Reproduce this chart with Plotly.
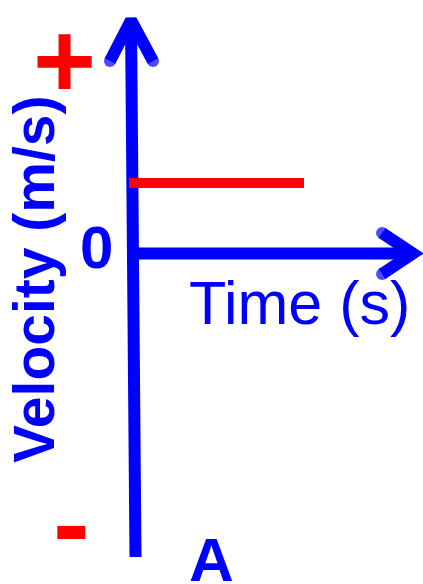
import plotly.graph_objects as go

# Data: constant positive velocity over time
TIME = [0, 5]          # s
VELOCITY = [2, 2]      # m/s

# Axis arrows (drawn in data space)
V_AXIS_X = [0.186, 0.057]
V_AXIS_Y = [-8.61, 6.62]
V_HEAD_X = [-0.543, 0.057, 0.686]
V_HEAD_Y = [5.46, 6.62, 5.46]
H_AXIS_X = [0.17, 8.11]
H_AXIS_Y = [0, 0]
H_HEAD_X = [7.23, 8.11, 7.23]
H_HEAD_Y = [0.582, 0, -0.582]

BLUE = "#0000ff"
RED = "#ff0000"
FONT = "Liberation Sans, Arial, sans-serif"

fig = go.Figure()
fig.add_trace(go.Scatter(x=V_AXIS_X, y=V_AXIS_Y, mode="lines",
                         line=dict(color=BLUE, width=12), hoverinfo="skip"))
fig.add_trace(go.Scatter(x=V_HEAD_X, y=V_HEAD_Y, mode="lines+markers",
                         line=dict(color=BLUE, width=12),
                         marker=dict(color=BLUE, size=[12, 0, 12], line=dict(width=0)),
                         hoverinfo="skip"))
fig.add_trace(go.Scatter(x=H_AXIS_X, y=H_AXIS_Y, mode="lines",
                         line=dict(color=BLUE, width=12), hoverinfo="skip"))
fig.add_trace(go.Scatter(x=H_HEAD_X, y=H_HEAD_Y, mode="lines+markers",
                         line=dict(color=BLUE, width=12),
                         marker=dict(color=BLUE, size=[12, 0, 12], line=dict(width=0)),
                         hoverinfo="skip"))
fig.add_trace(go.Scatter(x=TIME, y=VELOCITY, mode="lines",
                         line=dict(color=RED, width=10), hoverinfo="skip"))

def ann(text, px, py, size, color=BLUE, bold=True, angle=0):
    fig.add_annotation(text=f"<b>{text}</b>" if bold else text,
                       x=px / 423, y=1 - py / 584, xref="paper", yref="paper",
                       xanchor="center", yanchor="middle", showarrow=False,
                       textangle=angle,
                       font=dict(family=FONT, size=size, color=color))

ann("Velocity (m/s)", 34, 280, 57, angle=-90)
ann("Time (s)", 299, 303, 61, bold=False)
ann("0", 96, 248, 60)
ann("A", 212, 559, 62)
ann("+", 64, 59, 108, color=RED)
ann("-", 71, 522, 110, color=RED)

fig.update_layout(
    width=423, height=584,
    margin=dict(l=0, r=0, t=0, b=0),
    paper_bgcolor="white", plot_bgcolor="white",
    showlegend=False,
    xaxis=dict(range=[-129 / 35, (423 - 129) / 35], visible=False, fixedrange=True),
    yaxis=dict(range=[-(584 - 253.5) / 35.25, 253.5 / 35.25], visible=False, fixedrange=True),
)

fig.write_html("out.html", config={"displayModeBar": False},
               post_script="document.body.style.margin='0';document.body.style.overflow='hidden';")
